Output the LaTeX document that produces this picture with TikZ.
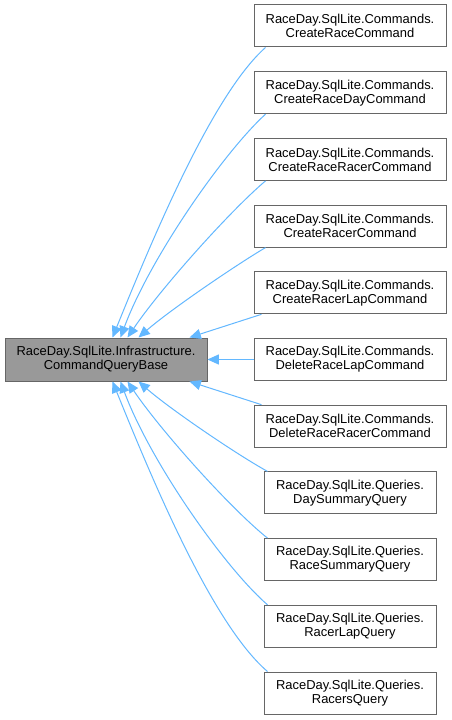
\documentclass[tikz,border=0pt]{standalone}
\usepackage{fontspec}
\setmainfont{Liberation Sans}
\usetikzlibrary{arrows.meta,calc}
\definecolor{edgeblue}{HTML}{63B8FF}
\definecolor{boxline}{HTML}{666666}
\definecolor{basefill}{HTML}{999999}
\begin{document}
\begin{tikzpicture}[x=0.75pt,y=-0.75pt,
  box/.style={draw=boxline, fill=white, line width=0.75pt, minimum width=144pt, minimum height=31.5pt, inner sep=0pt, align=center, font=\fontsize{9.7}{10.5}\selectfont},
  qbox/.style={box, minimum width=129pt},
  basebox/.style={box, fill=basefill, minimum width=151.5pt, minimum height=32.25pt},
  edge/.style={draw=edgeblue, line width=0.75pt, -{Triangle[length=8.5pt,width=7.5pt]}}]
\fill[white] (0,0) rectangle (452,720);
\useasboundingbox (0,0) rectangle (452,720);

\node[basebox] (base) at (106,359.5) {RaceDay.SqlLite.Infrastructure.\\CommandQueryBase};

\node[box] (b1) at (350,26) {RaceDay.SqlLite.Commands.\\CreateRaceCommand};
\node[box] (b2) at (350,92.7) {RaceDay.SqlLite.Commands.\\CreateRaceDayCommand};
\node[box] (b3) at (350,159.4) {RaceDay.SqlLite.Commands.\\CreateRaceRacerCommand};
\node[box] (b4) at (350,226.1) {RaceDay.SqlLite.Commands.\\CreateRacerCommand};
\node[box] (b5) at (350,292.8) {RaceDay.SqlLite.Commands.\\CreateRacerLapCommand};
\node[box] (b6) at (350,359.5) {RaceDay.SqlLite.Commands.\\DeleteRaceLapCommand};
\node[box] (b7) at (350,426.2) {RaceDay.SqlLite.Commands.\\DeleteRaceRacerCommand};
\node[qbox] (b8) at (350,492.9) {RaceDay.SqlLite.Queries.\\DaySummaryQuery};
\node[qbox] (b9) at (350,559.6) {RaceDay.SqlLite.Queries.\\RaceSummaryQuery};
\node[qbox] (b10) at (350,626.3) {RaceDay.SqlLite.Queries.\\RacerLapQuery};
\node[qbox] (b11) at (350,693) {RaceDay.SqlLite.Queries.\\RacersQuery};

\draw[edge] ($(b1.south west)+(12,0)$) .. controls (212,95) and (152,240) .. ($(base.north west)+(108,0)$);
\draw[edge] ($(b2.south west)+(12,0)$) .. controls (224,152) and (150,258) .. ($(base.north west)+(116,0)$);
\draw[edge] ($(b3.south west)+(12,0)$) .. controls (231,210) and (161,288) .. ($(base.north west)+(123,0)$);
\draw[edge] ($(b4.south west)+(12,0)$) .. controls (236,265) and (170,310) .. ($(base.north west)+(134,0)$);
\draw[edge] ($(b5.south west)+(8,0)$) -- ($(base.north west)+(185,0)$);
\draw[edge] (b6.west) -- (base.east);
\draw[edge] ($(b7.north west)+(8,0)$) -- ($(base.south west)+(185,0)$);
\draw[edge] ($(b8.north west)+(4,0)$) .. controls (236,454) and (170,409) .. ($(base.south west)+(134,0)$);
\draw[edge] ($(b9.north west)+(4,0)$) .. controls (231,509) and (161,431) .. ($(base.south west)+(123,0)$);
\draw[edge] ($(b10.north west)+(4,0)$) .. controls (224,567) and (150,461) .. ($(base.south west)+(116,0)$);
\draw[edge] ($(b11.north west)+(4,0)$) .. controls (212,624) and (152,479) .. ($(base.south west)+(108,0)$);
\end{tikzpicture}
\end{document}
